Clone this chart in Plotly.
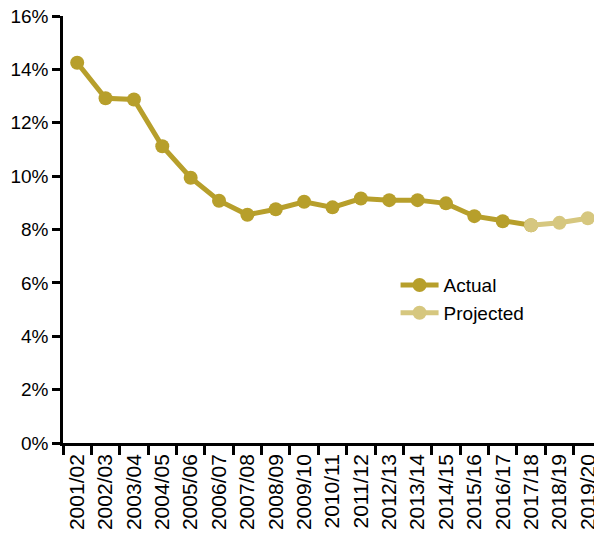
import plotly.graph_objects as go

years = ["2001/02", "2002/03", "2003/04", "2004/05", "2005/06", "2006/07", "2007/08",
         "2008/09", "2009/10", "2010/11", "2011/12", "2012/13", "2013/14", "2014/15",
         "2015/16", "2016/17", "2017/18", "2018/19", "2019/20"]
actual = [14.25, 12.92, 12.87, 11.12, 9.94, 9.08, 8.55, 8.76, 9.04, 8.83, 9.16,
          9.10, 9.10, 8.98, 8.50, 8.31, 8.16]
projected_years = ["2017/18", "2018/19", "2019/20"]
projected = [8.16, 8.25, 8.42]
y_ticks = [0, 2, 4, 6, 8, 10, 12, 14, 16]
y_tick_labels = [f"{v}%" for v in y_ticks]

actual_color = "#B79F2B"
projected_color = "#D6C77F"

fig = go.Figure()
fig.add_trace(go.Scatter(
    x=years[:len(actual)], y=actual, name="Actual", mode="lines+markers",
    line=dict(color=actual_color, width=5),
    marker=dict(color=actual_color, size=14),
))
fig.add_trace(go.Scatter(
    x=projected_years, y=projected, name="Projected", mode="lines+markers",
    line=dict(color=projected_color, width=5),
    marker=dict(color=projected_color, size=14),
))

fig.update_layout(
    width=594, height=530,
    margin=dict(l=55, r=0, t=8, b=95, autoexpand=False),
    plot_bgcolor="white", paper_bgcolor="white",
    font=dict(family="Liberation Sans, Arial, sans-serif", color="#000000", size=19),
    showlegend=True,
    legend=dict(x=0.617, y=0.414, xanchor="left", yanchor="top",
                bgcolor="rgba(0,0,0,0)", font=dict(size=19), tracegroupgap=0,
                itemwidth=38),
    xaxis=dict(
        type="category", categoryorder="array", categoryarray=years,
        range=[-0.5, len(years) - 0.5],
        showline=True, linecolor="#000000", linewidth=2.5,
        ticks="outside", tickson="boundaries", ticklen=9, tickwidth=2.5, tickcolor="#000000",
        tickangle=-90, tickfont=dict(size=21), ticklabeloverflow="allow",
        showgrid=False, zeroline=False, automargin=False,
    ),
    yaxis=dict(
        range=[0, 16], tickvals=y_ticks, ticktext=y_tick_labels,
        showline=True, linecolor="#000000", linewidth=2.5,
        ticks="outside", ticklen=8, tickwidth=2.5, tickcolor="#000000",
        tickfont=dict(size=19), ticklabeloverflow="allow",
        showgrid=False, zeroline=False, automargin=False,
    ),
)

fig.write_html("out.html")
